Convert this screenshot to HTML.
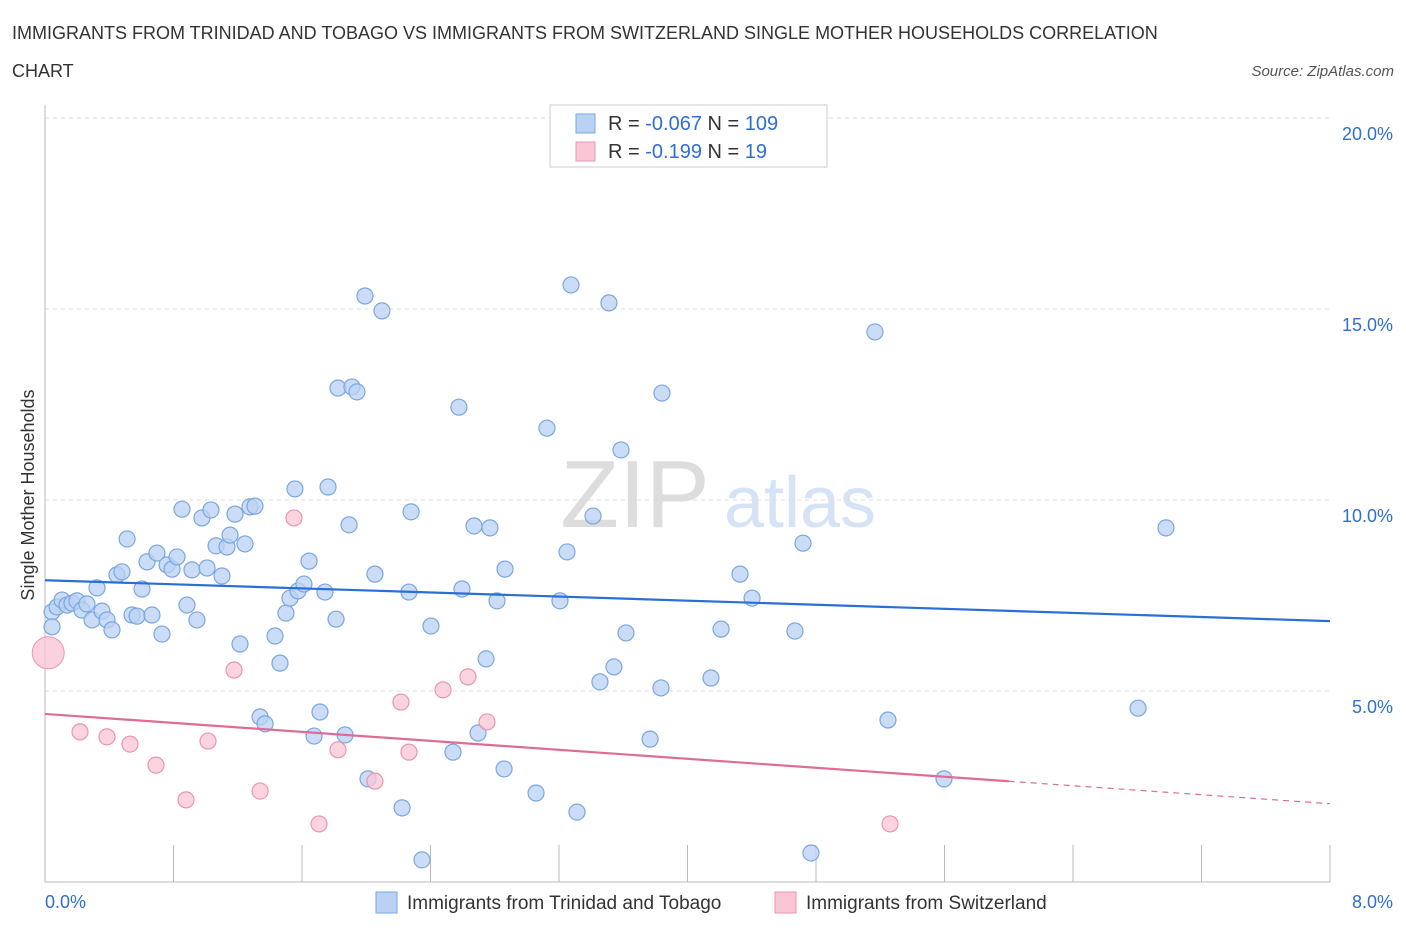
<!DOCTYPE html>
<html><head><meta charset="utf-8">
<style>
body{margin:0;background:#fff;font-family:"Liberation Sans",sans-serif;}
svg text{font-family:"Liberation Sans",sans-serif;}
</style></head>
<body>
<svg id="chart" width="1406" height="930" xmlns="http://www.w3.org/2000/svg">
<text x="12" y="39" font-size="18" fill="#333">IMMIGRANTS FROM TRINIDAD AND TOBAGO VS IMMIGRANTS FROM SWITZERLAND SINGLE MOTHER HOUSEHOLDS CORRELATION</text>
<text x="12" y="77" font-size="18" fill="#333">CHART</text>
<text x="1394" y="76" font-size="15" fill="#555" font-style="italic" text-anchor="end">Source: ZipAtlas.com</text>
<text x="34" y="495" font-size="18" fill="#333" transform="rotate(-90 34 495)" text-anchor="middle">Single Mother Households</text>
<g><text x="635" y="527" font-size="96" fill="#ddd" font-family="Liberation Serif" text-anchor="middle">ZIP</text><text x="800" y="527" font-size="72" fill="#d5e3f5" text-anchor="middle">atlas</text></g>
<g id="grid"></g><g id="marks"></g>
<g>
<rect x="550" y="105" width="277" height="62" fill="#fff" stroke="#ccc"/>
<rect x="576" y="114" width="19" height="19" fill="#b9d1f3" stroke="#7aa6e0"/>
<rect x="576" y="142" width="19" height="19" fill="#f9c6d6" stroke="#ea95b0"/>
<text x="608" y="130" font-size="20" fill="#333">R = <tspan fill="#2f6fd0">-0.067</tspan>   N = <tspan fill="#2f6fd0">109</tspan></text>
<text x="608" y="158" font-size="20" fill="#333">R =  <tspan fill="#2f6fd0">-0.199</tspan>   N =   <tspan fill="#2f6fd0">19</tspan></text>
</g>
<g>
<rect x="376" y="892" width="21" height="21" fill="#b9d1f3" stroke="#7aa6e0"/>
<text x="407" y="909" font-size="19" fill="#333">Immigrants from Trinidad and Tobago</text>
<rect x="775" y="892" width="21" height="21" fill="#f9c6d6" stroke="#ea95b0"/>
<text x="806" y="909" font-size="19" fill="#333">Immigrants from Switzerland</text>
</g>
</svg>
<script>
const xTicks=["0.0%","8.0%"];
const yTicks=[5,10,15,20];
const bluePx=[[52,612],[57,607],[62,600],[67,605],[72,603],[77,601],[82,610],[87,604],[92,620],[97,588],[102,611],[107,620],[112,630],[117,575],[122,572],[127,539],[132,615],[137,616],[142,589],[147,562],[152,615],[157,553],[162,634],[167,565],[172,569],[177,557],[182,509],[187,605],[192,570],[197,620],[202,518],[207,568],[211,510],[216,546],[222,576],[227,547],[230,535],[235,514],[240,644],[245,544],[250,507],[255,506],[260,717],[265,724],[275,636],[280,663],[286,613],[290,598],[295,489],[298,591],[304,584],[309,561],[320,712],[314,736],[325,592],[328,487],[336,619],[338,388],[345,735],[349,525],[352,387],[357,392],[365,296],[368,779],[375,574],[382,311],[402,808],[409,592],[411,512],[422,860],[431,626],[453,752],[459,407],[462,589],[474,526],[478,733],[486,659],[490,528],[497,601],[504,769],[505,569],[536,793],[547,428],[560,601],[567,552],[571,285],[577,812],[593,516],[600,682],[609,303],[614,667],[621,450],[626,633],[650,739],[661,688],[662,393],[711,678],[721,629],[740,574],[752,598],[795,631],[803,543],[811,853],[875,332],[888,720],[944,779],[1138,708],[1166,528],[52,627]];
const pinkPx=[[80,732],[107,737],[130,744],[156,765],[186,800],[208,741],[234,670],[260,791],[294,518],[319,824],[338,750],[375,781],[401,702],[409,752],[443,690],[468,677],[487,722],[890,824]];
// convert estimated readings to data values (percent)
const blueX=bluePx.map(p=>+((p[0]-45)/1285*8).toFixed(3));
const blueY=bluePx.map(p=>+((882-p[1])/38.2).toFixed(2));
const pinkX=pinkPx.map(p=>+((p[0]-45)/1285*8).toFixed(3));
const pinkY=pinkPx.map(p=>+((882-p[1])/38.2).toFixed(2));
const bigPinkX=[0.02],bigPinkY=[6.0];
const blueTrend=[7.9,6.83], pinkTrend=[4.4,2.05];
const X=v=>45+v/8*1285, Y=v=>882-v*38.2;
const NS="http://www.w3.org/2000/svg";
function mk(t,a,parent){const e=document.createElementNS(NS,t);for(const k in a)e.setAttribute(k,a[k]);document.getElementById(parent).appendChild(e);return e;}
yTicks.forEach(v=>{
 const l=mk('line',{x1:45,x2:1330,y1:Y(v),y2:Y(v),stroke:'#ddd','stroke-dasharray':'4,4'},'grid');
 
 
 const t=mk('text',{x:1393,y:Y(v)+22,'font-size':18,fill:'#2f6fd0','text-anchor':'end'},'grid');t.textContent=v.toFixed(1)+'%';
 
 
});
const ax=mk('line',{x1:45,x2:45,y1:105,y2:882,stroke:'#bbb'},'grid');


const bx=mk('line',{x1:45,x2:1330,y1:882,y2:882,stroke:'#bbb'},'grid');


for(let i=0;i<=10;i++){const tk=mk('line',{x1:X(i*0.8),x2:X(i*0.8),y1:845,y2:882,stroke:'#bbb'},'grid');
 
 }
[[0,45,'start'],[8,1393,'end']].forEach((d,i)=>{const t=mk('text',{x:d[1],y:908,'font-size':18,fill:'#2f6fd0','text-anchor':d[2]},'grid');t.textContent=xTicks[i];
 
 });
blueX.forEach((x,i)=>{const c=mk('circle',{cx:X(x),cy:Y(blueY[i]),r:8,fill:'#b9d1f3','fill-opacity':0.75,stroke:'#7aa6e0','stroke-width':1.2},'marks');
 
 });
pinkX.forEach((x,i)=>{const c=mk('circle',{cx:X(x),cy:Y(pinkY[i]),r:8,fill:'#f9c6d6','fill-opacity':0.75,stroke:'#ea95b0','stroke-width':1.2},'marks');
 
 });
bigPinkX.forEach((x,i)=>{const c=mk('circle',{cx:X(x),cy:Y(bigPinkY[i]),r:16,fill:'#f9c6d6','fill-opacity':0.8,stroke:'#ea95b0'},'marks');
 
 });
const bl=mk('line',{x1:X(0),y1:Y(blueTrend[0]),x2:X(8),y2:Y(blueTrend[1]),stroke:'#2a6fd6','stroke-width':2.2},'marks');


const pm=pinkTrend[0]+(pinkTrend[1]-pinkTrend[0])*6/8;
const pl=mk('line',{x1:X(0),y1:Y(pinkTrend[0]),x2:X(6),y2:Y(pm),stroke:'#e06c96','stroke-width':2.2},'marks');


const pd=mk('line',{x1:X(6),y1:Y(pm),x2:X(8),y2:Y(pinkTrend[1]),stroke:'#e06c96','stroke-width':1.2,'stroke-dasharray':'6,5'},'marks');


</script>
</body></html>
